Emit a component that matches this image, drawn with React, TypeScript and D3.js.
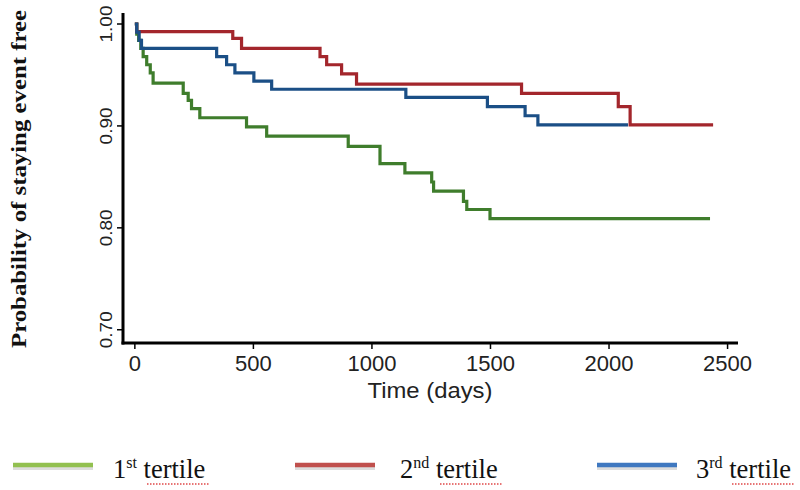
import React from "react";
import * as d3 from "d3";

const W = 800;
const H = 490;

// Kaplan-Meier step data (time in days, survival after the step)
const tertile1Times = [0, 8, 16, 25, 35, 50, 65, 77, 204, 225, 239, 274, 471, 556, 900, 1034, 1139, 1252, 1260, 1386, 1400, 1498, 2426];
const tertile1Values = [1.0, 0.99, 0.984, 0.976, 0.968, 0.96, 0.952, 0.942, 0.932, 0.925, 0.917, 0.908, 0.899, 0.89, 0.88, 0.863, 0.854, 0.845, 0.836, 0.826, 0.818, 0.809, 0.809];

const tertile2Times = [0, 8, 413, 450, 781, 809, 872, 935, 1631, 2039, 2089, 2439];
const tertile2Values = [1.0, 0.9925, 0.986, 0.976, 0.968, 0.96, 0.951, 0.941, 0.932, 0.919, 0.901, 0.901];

const tertile3Times = [0, 8, 18, 28, 345, 387, 422, 502, 577, 1143, 1487, 1646, 1700, 2080];
const tertile3Values = [1.0, 0.992, 0.984, 0.976, 0.968, 0.96, 0.952, 0.944, 0.936, 0.928, 0.919, 0.91, 0.901, 0.901];

const xTicks = [0, 500, 1000, 1500, 2000, 2500];
const yTicks = [0.7, 0.8, 0.9, 1.0];

const seriesNames = ["1st tertile", "2nd tertile", "3rd tertile"];
const curveColors = ["#3f7d2c", "#a3262c", "#1b4f86"];
const legendColors = ["#92c050", "#c0504d", "#3f78c0"];

const xScale = d3.scaleLinear().domain([-50, 2544]).range([123, 738]);
const yScale = d3.scaleLinear().domain([0.687, 1.0108]).range([343, 13]);

const series = [
  { times: tertile1Times, values: tertile1Values },
  { times: tertile2Times, values: tertile2Values },
  { times: tertile3Times, values: tertile3Values },
];

const line = d3
  .line<[number, number]>()
  .x((d) => xScale(d[0]))
  .y((d) => yScale(d[1]))
  .curve(d3.curveStepAfter);

function Legend({ idx, x0, textX }: { idx: number; x0: number; textX: number }) {
  const name = seriesNames[idx];
  const num = name.charAt(0);
  const sup = name.slice(1, 3);
  const rest = name.slice(3);
  const ly = 465;
  return (
    <g>
      <line x1={x0} x2={x0 + 80} y1={ly + 2.5} y2={ly + 2.5} stroke="#777" strokeOpacity={0.25} strokeWidth={5} />
      <line x1={x0} x2={x0 + 80} y1={ly} y2={ly} stroke={legendColors[idx]} strokeWidth={4.5} />
      <text x={textX} y={478} fontFamily="'Liberation Serif', 'Times New Roman', serif" fontSize={26.5} fill="#111">
        {num}
        <tspan fontSize={16} dy={-10}>{sup}</tspan>
        <tspan dy={10}>{rest}</tspan>
      </text>
    </g>
  );
}

export default function App() {
  const tertileXs = [
    { lx: 13, tx: 113, ux: 147 },
    { lx: 295, tx: 400, ux: 440 },
    { lx: 597, tx: 696, ux: 732 },
  ];
  return (
    <svg width={W} height={H} style={{ display: "block", position: "absolute", left: 0, top: 0, background: "#fff" }}>
      <rect x={0} y={0} width={W} height={H} fill="#fff" />
      {/* curves */}
      {series.map((s, i) => (
        <path
          key={i}
          d={line(s.times.map((t, k) => [t, s.values[k]] as [number, number])) || ""}
          fill="none"
          stroke={curveColors[i]}
          strokeWidth={3.2}
          strokeLinejoin="miter"
        />
      ))}
      {/* axes */}
      <line x1={123} x2={123} y1={yScale.range()[1]} y2={yScale.range()[0] + 1.5} stroke="#000" strokeWidth={3} />
      <line x1={xScale.range()[0] - 1.5} x2={xScale.range()[1]} y1={343} y2={343} stroke="#000" strokeWidth={3} />
      {yTicks.map((t) => (
        <g key={t}>
          <line x1={117} x2={123} y1={yScale(t)} y2={yScale(t)} stroke="#000" strokeWidth={1.5} />
          <text
            transform={`translate(112,${yScale(t)}) rotate(-90)`}
            textAnchor="middle"
            fontFamily="'Liberation Sans', Arial, sans-serif"
            fontSize={17}
            fill="#222"
            textLength={37}
            lengthAdjust="spacingAndGlyphs"
          >
            {t.toFixed(2)}
          </text>
        </g>
      ))}
      {xTicks.map((t) => (
        <g key={t}>
          <line x1={xScale(t)} x2={xScale(t)} y1={343} y2={349} stroke="#000" strokeWidth={1.5} />
          <text
            x={xScale(t)}
            y={371}
            textAnchor="middle"
            fontFamily="'Liberation Sans', Arial, sans-serif"
            fontSize={22}
            fill="#222"
          >
            {t}
          </text>
        </g>
      ))}
      <text
        x={430}
        y={398}
        textAnchor="middle"
        fontFamily="'Liberation Sans', Arial, sans-serif"
        fontSize={22.5}
        fill="#222"
        textLength={125}
        lengthAdjust="spacingAndGlyphs"
      >
        Time (days)
      </text>
      <text
        transform="translate(26,179) rotate(-90)"
        textAnchor="middle"
        fontFamily="'Liberation Serif', 'Times New Roman', serif"
        fontWeight="bold"
        fontSize={22}
        fill="#111"
        textLength={338}
        lengthAdjust="spacingAndGlyphs"
      >
        Probability of staying event free
      </text>
      {/* legend */}
      {tertileXs.map((p, i) => (
        <g key={i}>
          <Legend idx={i} x0={p.lx} textX={p.tx} />
          <line x1={p.ux} x2={p.ux + 63} y1={484} y2={484} stroke="#e04848" strokeWidth={1.5} strokeDasharray="1.5,1.5" />
        </g>
      ))}
    </svg>
  );
}
